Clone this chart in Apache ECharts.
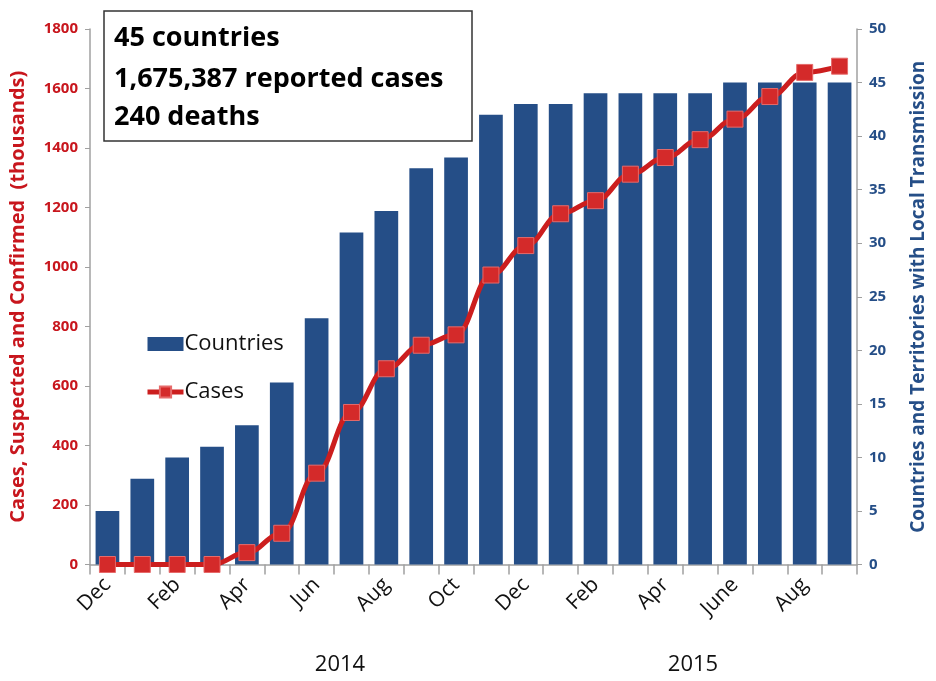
<!DOCTYPE html>
<html>
<head>
<meta charset="utf-8">
<script src="https://cdn.jsdelivr.net/npm/echarts@6/dist/echarts.min.js"></script>
<style>html,body{margin:0;padding:0;background:#fff}#c{width:936px;height:681px}</style>
</head>
<body>
<div id="c"></div>
<script>
var categories = ['Dec','Jan','Feb','Mar','Apr','May','Jun','Jul','Aug','Sep','Oct','Nov','Dec','Jan','Feb','Mar','Apr','May','June','Jul','Aug','Sep'];
var countries = [5,8,10,11,13,17,23,31,33,37,38,42,43,43,44,44,44,44,45,45,45,45];
var cases = [0,0,0,0,40,105,307,511,658,737,772,973,1072,1179,1223,1312,1368,1428,1497,1573,1654,1675];
var leftTicks = [0,200,400,600,800,1000,1200,1400,1600,1800];
var rightTicks = [0,5,10,15,20,25,30,35,40,45,50];
var years = ['2014','2015'];
var boxLines = ['45 countries','1,675,387 reported cases','240 deaths'];

var FONT = 'Open Sans';
var RED = '#c8161d';
var BLUE = '#254e87';

var chart = echarts.init(document.getElementById('c'));
chart.setOption({
  animation: false,
  textStyle: {fontFamily: FONT},
  grid: {left: 90, right: 63, top: 29, bottom: 116.5, containLabel: false},
  legend: {
    orient: 'vertical', left: 140, top: 328, itemGap: 26, itemWidth: 36, itemHeight: 14,
    textStyle: {fontSize: 22, color: '#111', fontFamily: FONT, padding: [0,0,0,-4]},
    data: [
      {name: 'Countries', icon: 'rect', itemStyle: {color: BLUE}},
      {name: 'Cases', lineStyle: {width: 5, color: '#cc1e1e'}}
    ]
  },
  xAxis: {
    type: 'category', data: categories,
    axisLine: {lineStyle: {color: '#a0a0a0', width: 1.5}},
    axisTick: {show: true, interval: 0, length: 10, lineStyle: {color: '#a0a0a0', width: 1.5}},
    axisLabel: {interval: 1, rotate: 45, fontSize: 21, color: '#111', margin: 17, fontFamily: FONT}
  },
  yAxis: [
    {
      type: 'value', min: 0, max: 1800, interval: 200,
      name: 'Cases, Suspected and Confirmed  (thousands)', nameLocation: 'middle', nameGap: 62,
      nameTextStyle: {color: RED, fontWeight: 'bold', fontSize: 20, fontFamily: FONT},
      axisLine: {show: true, lineStyle: {color: '#a0a0a0', width: 1.5}},
      axisTick: {show: true, length: 5, lineStyle: {color: '#a0a0a0'}},
      splitLine: {show: false},
      axisLabel: {color: RED, fontWeight: 'bold', fontSize: 15, margin: 12, fontFamily: FONT,
        formatter: function(v){ return leftTicks.indexOf(v) >= 0 ? String(v) : ''; }}
    },
    {
      type: 'value', min: 0, max: 50, interval: 5, position: 'right',
      name: 'Countries and Territories with Local Transmission', nameLocation: 'middle', nameGap: 52, nameRotate: 90,
      nameTextStyle: {color: BLUE, fontWeight: 'bold', fontSize: 19, fontFamily: FONT},
      axisLine: {show: true, lineStyle: {color: '#a0a0a0', width: 1.5}},
      axisTick: {show: true, length: 5, lineStyle: {color: '#a0a0a0'}},
      splitLine: {show: false},
      axisLabel: {color: BLUE, fontWeight: 'bold', fontSize: 15, margin: 12, fontFamily: FONT,
        formatter: function(v){ return rightTicks.indexOf(v) >= 0 ? String(v) : ''; }}
    }
  ],
  series: [
    {
      name: 'Countries', type: 'bar', yAxisIndex: 1, data: countries,
      barCategoryGap: '32%', itemStyle: {color: BLUE}, z: 1
    },
    {
      name: 'Cases', type: 'line', yAxisIndex: 0, data: cases,
      smooth: 0.4, smoothMonotone: 'x',
      symbol: 'rect', symbolSize: 16,
      lineStyle: {color: '#cc1e1e', width: 5},
      itemStyle: {color: '#d42a2a', borderColor: '#e66a6a', borderWidth: 1},
      z: 3
    }
  ],
  graphic: [
    {type: 'rect', shape: {x: 104, y: 11, width: 368, height: 130}, style: {fill: '#fff', stroke: '#333', lineWidth: 1.5}, z: 10},
    {type: 'text', x: 114, y: 38, style: {text: boxLines[0], font: 'bold 27px "Open Sans"', fill: '#000', textVerticalAlign: 'middle'}, z: 11},
    {type: 'text', x: 114, y: 79, style: {text: boxLines[1], font: 'bold 27px "Open Sans"', fill: '#000', textVerticalAlign: 'middle'}, z: 11},
    {type: 'text', x: 114, y: 117, style: {text: boxLines[2], font: 'bold 27px "Open Sans"', fill: '#000', textVerticalAlign: 'middle'}, z: 11},
    {type: 'text', x: 340, y: 665, style: {text: years[0], font: '22px "Open Sans"', fill: '#111', textAlign: 'center', textVerticalAlign: 'middle'}},
    {type: 'text', x: 693, y: 665, style: {text: years[1], font: '22px "Open Sans"', fill: '#111', textAlign: 'center', textVerticalAlign: 'middle'}}
  ]
});
</script>
</body>
</html>
